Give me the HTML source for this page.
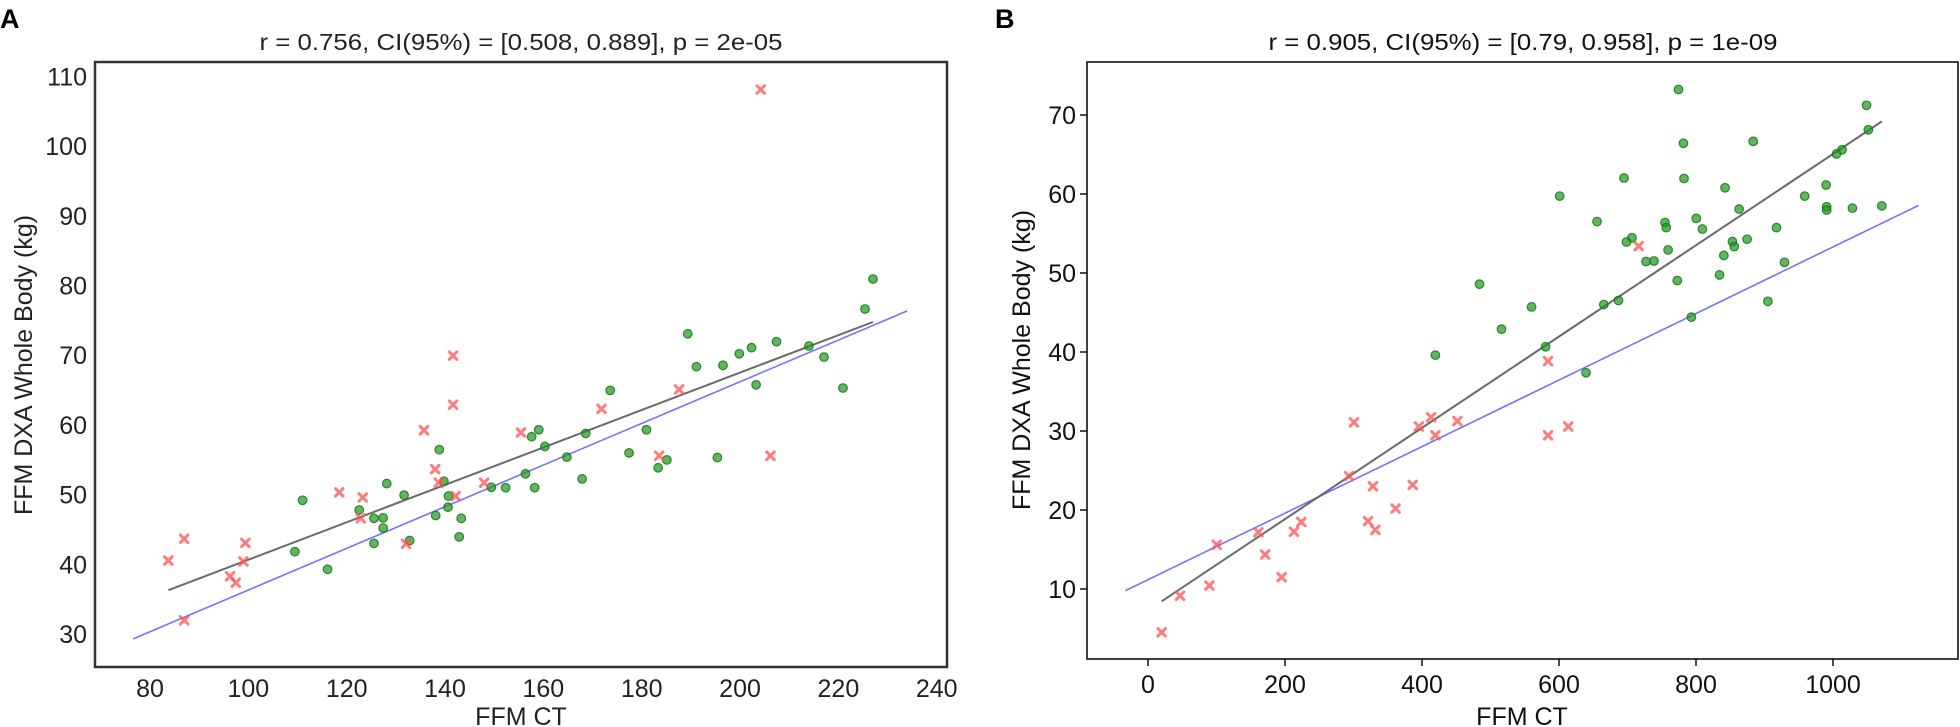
<!DOCTYPE html>
<html><head><meta charset="utf-8">
<style>
html,body{margin:0;padding:0;background:#fff;}
svg{display:block;font-family:"Liberation Sans",Arial,sans-serif;}
</style></head>
<body>
<svg id="s" width="1960" height="727" viewBox="0 0 1960 727" xmlns="http://www.w3.org/2000/svg">
<rect width="1960" height="727" fill="#fff"/>
<text x="0" y="28" font-size="27" font-weight="bold" fill="#000">A</text>
<text x="995" y="28" font-size="27" font-weight="bold" fill="#000">B</text>
<text x="521" y="50" font-size="23" text-anchor="middle" fill="#222" textLength="523" lengthAdjust="spacingAndGlyphs">r = 0.756, CI(95%) = [0.508, 0.889], p = 2e-05</text>
<text x="1523" y="50" font-size="23" text-anchor="middle" fill="#111" textLength="509" lengthAdjust="spacingAndGlyphs">r = 0.905, CI(95%) = [0.79, 0.958], p = 1e-09</text>
<g id="A"></g>
<g id="B"></g>
</svg>
<script>
var NS="http://www.w3.org/2000/svg";
function el(p,t,a,txt){var e=document.createElementNS(NS,t);for(var k in a)e.setAttribute(k,a[k]);if(txt!==undefined)e.textContent=txt;p.appendChild(e);return e;}
var A=document.getElementById('A'),B=document.getElementById('B');
// Panel A frame
el(A,'rect',{x:95,y:62,width:852,height:605,fill:'none',stroke:'#333',"stroke-width":2.5});
[30,40,50,60,70,80,90,100,110].forEach(function(v){var y=634-(v-30)*6.97;el(A,'text',{x:87,y:y+9,"font-size":25,"text-anchor":"end",fill:'#222'},String(v));});
[80,100,120,140,160,180,200,220,240].forEach(function(v){var x=150+(v-80)*4.917;el(A,'text',{x:x,y:697,"font-size":25,"text-anchor":"middle",fill:'#222'},String(v));});
el(A,'text',{x:521,y:725,"font-size":25,"text-anchor":"middle",fill:'#222'},'FFM CT');
el(A,'text',{x:0,y:0,"font-size":25,"text-anchor":"middle",fill:'#222',transform:'translate(32,365) rotate(-90)'},'FFM DXA Whole Body (kg)');
// Panel B frame
el(B,'rect',{x:1087,y:62,width:871,height:597,fill:'none',stroke:'#111',"stroke-width":1.6});
[10,20,30,40,50,60,70].forEach(function(v){var y=589-(v-10)*7.9;el(B,'line',{x1:1080,x2:1087,y1:y,y2:y,stroke:'#111',"stroke-width":1.5});el(B,'text',{x:1076,y:y+9,"font-size":25,"text-anchor":"end",fill:'#111'},String(v));});
[0,200,400,600,800,1000].forEach(function(v){var x=1148+v*0.685;el(B,'line',{x1:x,x2:x,y1:659,y2:666,stroke:'#111',"stroke-width":1.5});el(B,'text',{x:x,y:693,"font-size":25,"text-anchor":"middle",fill:'#111'},String(v));});
el(B,'text',{x:1522,y:725,"font-size":25,"text-anchor":"middle",fill:'#111'},'FFM CT');
el(B,'text',{x:0,y:0,"font-size":25,"text-anchor":"middle",fill:'#111',transform:'translate(1030,360) rotate(-90)'},'FFM DXA Whole Body (kg)');

function dot(p,x,y){el(p,'circle',{cx:x,cy:y,r:4.3,fill:'rgba(30,150,30,0.7)',stroke:'rgba(20,120,20,0.85)',"stroke-width":1.2});}
function cross(p,x,y){var d=3.8;el(p,'path',{d:'M'+(x-d)+' '+(y-d)+'L'+(x+d)+' '+(y+d)+'M'+(x-d)+' '+(y+d)+'L'+(x+d)+' '+(y-d),stroke:'rgba(255,80,80,0.75)',"stroke-width":3,"stroke-linecap":"round"});}

// Panel A data (zoom coords: x/1.96, y/2.157)
var ax=1.96, ay=2.157;
// lines
el(A,'line',{x1:261/ax,y1:1378/ay,x2:907,y2:311,stroke:'rgba(90,90,255,0.85)',"stroke-width":1.6});
el(A,'line',{x1:330/ax,y1:1273/ay,x2:873,y2:322,stroke:'rgba(90,90,90,0.9)',"stroke-width":2});
var gA=[[593,1079],[578,1190],[642,1228],[704,1100],[733,1118],[751,1117],[751,1139],[733,1172],[758,1043],[792,1068],[803,1166],[854,1112],[861,970],[870,1038],[879,1070],[878,1094],[900,1158],[904,1118],[963,1051],[991,1052],[1030,1022],[1042,942],[1056,927],[1048,1052],[1068,963],[1111,986],[1141,1033],[1148,935],[1196,842],[1233,977],[1267,927],[1290,1009],[1307,992],[1348,720],[1365,791],[1406,987],[1417,788],[1449,763],[1473,750],[1482,830],[1522,737]];
gA.forEach(function(p){dot(A,p[0]/ax,p[1]/ay);});
[[809,346],[824,357],[843,388],[865,309],[873,279]].forEach(function(p){dot(A,p[0],p[1]);});
var rA=[[330,1209],[361,1162],[361,1338],[451,1243],[462,1257],[481,1171],[477,1211],[665,1062],[711,1073],[707,1118],[796,1173],[831,928],[853,1012],[860,1041],[888,767],[888,873],[893,1070],[949,1041],[1021,933],[1179,882],[1292,983],[1331,840],[1491,193],[1510,983]];
rA.forEach(function(p){cross(A,p[0]/ax,p[1]/ay);});

// Panel B data (zoom coords: 1000 + x/1.633, y/2.157)
var bx=1.633;
function BX(v){return 1000+v/bx;} function BY(v){return v/ay;}
el(B,'line',{x1:BX(205),y1:BY(1274),x2:BX(1500),y2:BY(443),stroke:'rgba(90,90,255,0.85)',"stroke-width":1.6});
el(B,'line',{x1:BX(264),y1:BY(1297),x2:BX(1440),y2:BY(262),stroke:'rgba(90,90,90,0.9)',"stroke-width":2});
var gB=[[1108,193],[1415,227],[1116,309],[1230,305],[1418,280],[1375,323],[1366,332],[1019,384],[1117,385],[914,423],[1184,405],[1314,423],[1349,399],[1350,446],[1350,453],[1392,449],[1440,444],[1207,451],[975,478],[1086,480],[1088,491],[1147,494],[1137,471],[1268,491],[1032,513],[1023,522],[1091,539],[1055,564],[1068,563],[1196,521],[1199,532],[1220,516],[1182,551],[1106,605],[1175,593],[1281,566],[783,613],[868,662],[986,657],[1010,648],[819,710],[891,748],[711,766],[1129,684],[957,804],[1254,650]];
gB.forEach(function(p){dot(B,BX(p[0]),BY(p[1]));});
var rB=[[264,1364],[294,1285],[342,1263],[354,1175],[422,1148],[433,1196],[460,1245],[480,1147],[492,1126],[570,1027],[578,911],[601,1124],[609,1049],[613,1143],[646,1097],[674,1046],[684,920],[704,900],[711,939],[747,908],[895,779],[895,939],[928,920],[1043,531]];
rB.forEach(function(p){cross(B,BX(p[0]),BY(p[1]));});
</script>
</body></html>
